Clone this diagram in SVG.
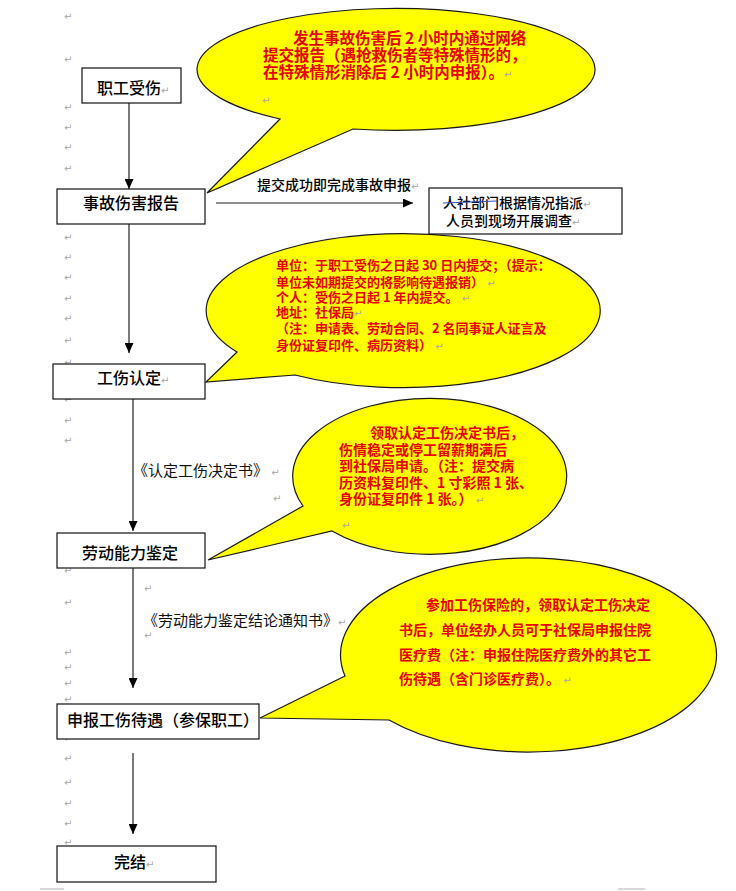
<svg xmlns="http://www.w3.org/2000/svg" width="736" height="891" viewBox="0 0 736 891">
<style>
  .box { fill: #ffffff; stroke: #111111; stroke-width: 1.2; }
  .lbl { font-family: "Noto Sans CJK SC", "Liberation Sans", sans-serif; font-size: 16px; fill: #000000; font-weight: 500; }
  .sm { font-family: "Noto Sans CJK SC", "Liberation Sans", sans-serif; font-size: 14px; fill: #000000; font-weight: 500; }
  .doc { font-family: "Noto Sans CJK SC", "Liberation Sans", sans-serif; font-size: 15px; fill: #111111; }
  .call { fill: #ffff00; stroke: #1a1a1a; stroke-width: 1.2; stroke-linejoin: miter; }
  .red { font-family: "Noto Sans CJK SC", "Liberation Sans", sans-serif; font-weight: bold; fill: #e80000; }
  .pm { font-family: "DejaVu Sans", sans-serif; font-size: 10px; fill: #a8a8a8; }
  .conn { stroke: #222222; stroke-width: 1.2; fill: none; }
</style>
<defs>
  <marker id="ah" markerUnits="userSpaceOnUse" markerWidth="10" markerHeight="9" refX="10" refY="4.5" orient="auto">
    <path d="M0,0 L10,4.5 L0,9 z" fill="#000000"/>
  </marker>
</defs>
<rect width="736" height="891" fill="#ffffff"/>

<!-- paragraph marks in left column -->
<g id="para-marks">
  <text class="pm" x="64" y="20">↵</text>
  <text class="pm" x="64" y="63">↵</text>
  <text class="pm" x="64" y="111">↵</text>
  <text class="pm" x="64" y="131">↵</text>
  <text class="pm" x="64" y="151">↵</text>
  <text class="pm" x="64" y="172">↵</text>
  <text class="pm" x="64" y="241">↵</text>
  <text class="pm" x="64" y="261">↵</text>
  <text class="pm" x="64" y="281">↵</text>
  <text class="pm" x="64" y="302">↵</text>
  <text class="pm" x="64" y="322">↵</text>
  <text class="pm" x="64" y="344">↵</text>
  <text class="pm" x="64" y="366">↵</text>
  <text class="pm" x="64" y="403">↵</text>
  <text class="pm" x="64" y="424">↵</text>
  <text class="pm" x="64" y="444">↵</text>
  <text class="pm" x="64" y="539">↵</text>
  <text class="pm" x="64" y="574">↵</text>
  <text class="pm" x="64" y="606">↵</text>
  <text class="pm" x="64" y="656">↵</text>
  <text class="pm" x="64" y="671">↵</text>
  <text class="pm" x="64" y="687">↵</text>
  <text class="pm" x="64" y="703">↵</text>
  <text class="pm" x="64" y="742">↵</text>
  <text class="pm" x="64" y="762">↵</text>
  <text class="pm" x="64" y="786">↵</text>
  <text class="pm" x="64" y="807">↵</text>
  <text class="pm" x="64" y="827">↵</text>
  <text class="pm" x="64" y="846">↵</text>
  <text class="pm" x="144" y="592">↵</text>
  <text class="pm" x="144" y="639">↵</text>
  <text class="pm" x="273" y="502">↵</text>
  <line x1="40" y1="889" x2="64" y2="889" stroke="#b0b0b0" stroke-width="1"/>
  <line x1="618" y1="889" x2="645" y2="889" stroke="#b0b0b0" stroke-width="1"/>
</g>

<!-- callouts -->
<g id="callout-1">
  <path class="call" d="M 280 119 A 199 61 0 1 1 353 129 L 207 193 Z"/>
  <text class="red" font-size="15.5" x="293" y="44">发生事故伤害后 2 小时内通过网络</text>
  <text class="red" font-size="15.5" x="263" y="61">提交报告（遇抢救伤者等特殊情形的，</text>
  <text class="red" font-size="15.5" x="263" y="78">在特殊情形消除后 2 小时内申报）。<tspan class="pm" font-weight="normal">↵</tspan></text>
  <text class="pm" x="262" y="104">↵</text>
</g>

<g id="callout-2">
  <path class="call" d="M 237 352 A 197 77 0 1 1 295 375 L 206 382 Z"/>
  <text class="red" font-size="13" x="276" y="270">单位：于职工受伤之日起 30 日内提交；（提示：</text>
  <text class="red" font-size="13" x="276" y="287">单位未如期提交的将影响待遇报销）<tspan class="pm" font-weight="normal"> ↵</tspan></text>
  <text class="red" font-size="13" x="276" y="302">个人：受伤之日起 1 年内提交。<tspan class="pm" font-weight="normal"> ↵</tspan></text>
  <text class="red" font-size="13" x="276" y="317">地址：社保局<tspan class="pm" font-weight="normal">↵</tspan></text>
  <text class="red" font-size="13" x="276" y="333">（注：申请表、劳动合同、2 名同事证人证言及</text>
  <text class="red" font-size="13" x="276" y="350">身份证复印件、病历资料）<tspan class="pm" font-weight="normal"> ↵</tspan></text>
</g>

<g id="callout-3">
  <path class="call" d="M 303 506 A 137 78 0 1 1 332 531 L 208 560 Z"/>
  <text class="red" font-size="14" x="370" y="438">领取认定工伤决定书后，</text>
  <text class="red" font-size="14" x="339" y="455">伤情稳定或停工留薪期满后</text>
  <text class="red" font-size="14" x="339" y="471">到社保局申请。（注：提交病</text>
  <text class="red" font-size="14" x="339" y="488">历资料复印件、1 寸彩照 1 张、</text>
  <text class="red" font-size="14" x="339" y="504">身份证复印件 1 张。）<tspan class="pm" font-weight="normal"> ↵</tspan></text>
  <text class="pm" x="342" y="529">↵</text>
</g>

<g id="callout-4">
  <path class="call" d="M 345 676 A 188 97 0 1 1 389 720 L 260 718 Z"/>
  <text class="red" font-size="14" x="426" y="610">参加工伤保险的，领取认定工伤决定</text>
  <text class="red" font-size="14" x="399" y="635">书后，单位经办人员可于社保局申报住院</text>
  <text class="red" font-size="14" x="399" y="660">医疗费（注：申报住院医疗费外的其它工</text>
  <text class="red" font-size="14" x="399" y="684">伤待遇（含门诊医疗费）。<tspan class="pm" font-weight="normal"> ↵</tspan></text>
</g>

<!-- connectors -->
<g id="connectors">
  <line class="conn" x1="129" y1="103" x2="129" y2="189" marker-end="url(#ah)"/>
  <line class="conn" x1="129" y1="224" x2="129" y2="353" marker-end="url(#ah)"/>
  <line class="conn" x1="133" y1="399" x2="133" y2="531" marker-end="url(#ah)"/>
  <line class="conn" x1="133" y1="568" x2="133" y2="688" marker-end="url(#ah)"/>
  <line class="conn" x1="133" y1="753" x2="133" y2="834" marker-end="url(#ah)"/>
  <line class="conn" x1="216" y1="203" x2="413" y2="203" marker-end="url(#ah)"/>
  <text class="sm" x="257" y="190">提交成功即完成事故申报<tspan class="pm">↵</tspan></text>
  <text class="doc" x="133" y="476">《认定工伤决定书》<tspan class="pm"> ↵</tspan></text>
  <text class="doc" x="143" y="626">《劳动能力鉴定结论通知书》<tspan class="pm">↵</tspan></text>
</g>

<!-- nodes -->
<g id="node-injury">
  <rect class="box" x="82" y="68" width="99" height="35"/>
  <text class="lbl" x="97" y="94">职工受伤<tspan class="pm">↵</tspan></text>
</g>
<g id="node-report">
  <rect class="box" x="57" y="189" width="148" height="35"/>
  <text class="lbl" x="83" y="209">事故伤害报告</text>
</g>
<g id="node-survey">
  <rect class="box" x="429" y="188" width="193" height="46"/>
  <text class="sm" x="443" y="208">人社部门根据情况指派<tspan class="pm">↵</tspan></text>
  <line x1="443" y1="203" x2="497" y2="201" stroke="#3050c0" stroke-width="1"/>
  <text class="sm" x="446" y="226">人员到现场开展调查<tspan class="pm">↵</tspan></text>
</g>
<g id="node-recognition">
  <rect class="box" x="53" y="364" width="152" height="35"/>
  <text class="lbl" x="97" y="384">工伤认定<tspan class="pm">↵</tspan></text>
</g>
<g id="node-appraisal">
  <rect class="box" x="57" y="533" width="148" height="35"/>
  <text class="lbl" x="82" y="559">劳动能力鉴定</text>
</g>
<g id="node-claim">
  <rect class="box" x="57" y="704" width="202" height="35"/>
  <text class="lbl" x="67" y="726">申报工伤待遇（参保职工）</text>
</g>
<g id="node-end">
  <rect class="box" x="57" y="846" width="159" height="36"/>
  <text class="lbl" x="114" y="868">完结<tspan class="pm">↵</tspan></text>
</g>
</svg>
